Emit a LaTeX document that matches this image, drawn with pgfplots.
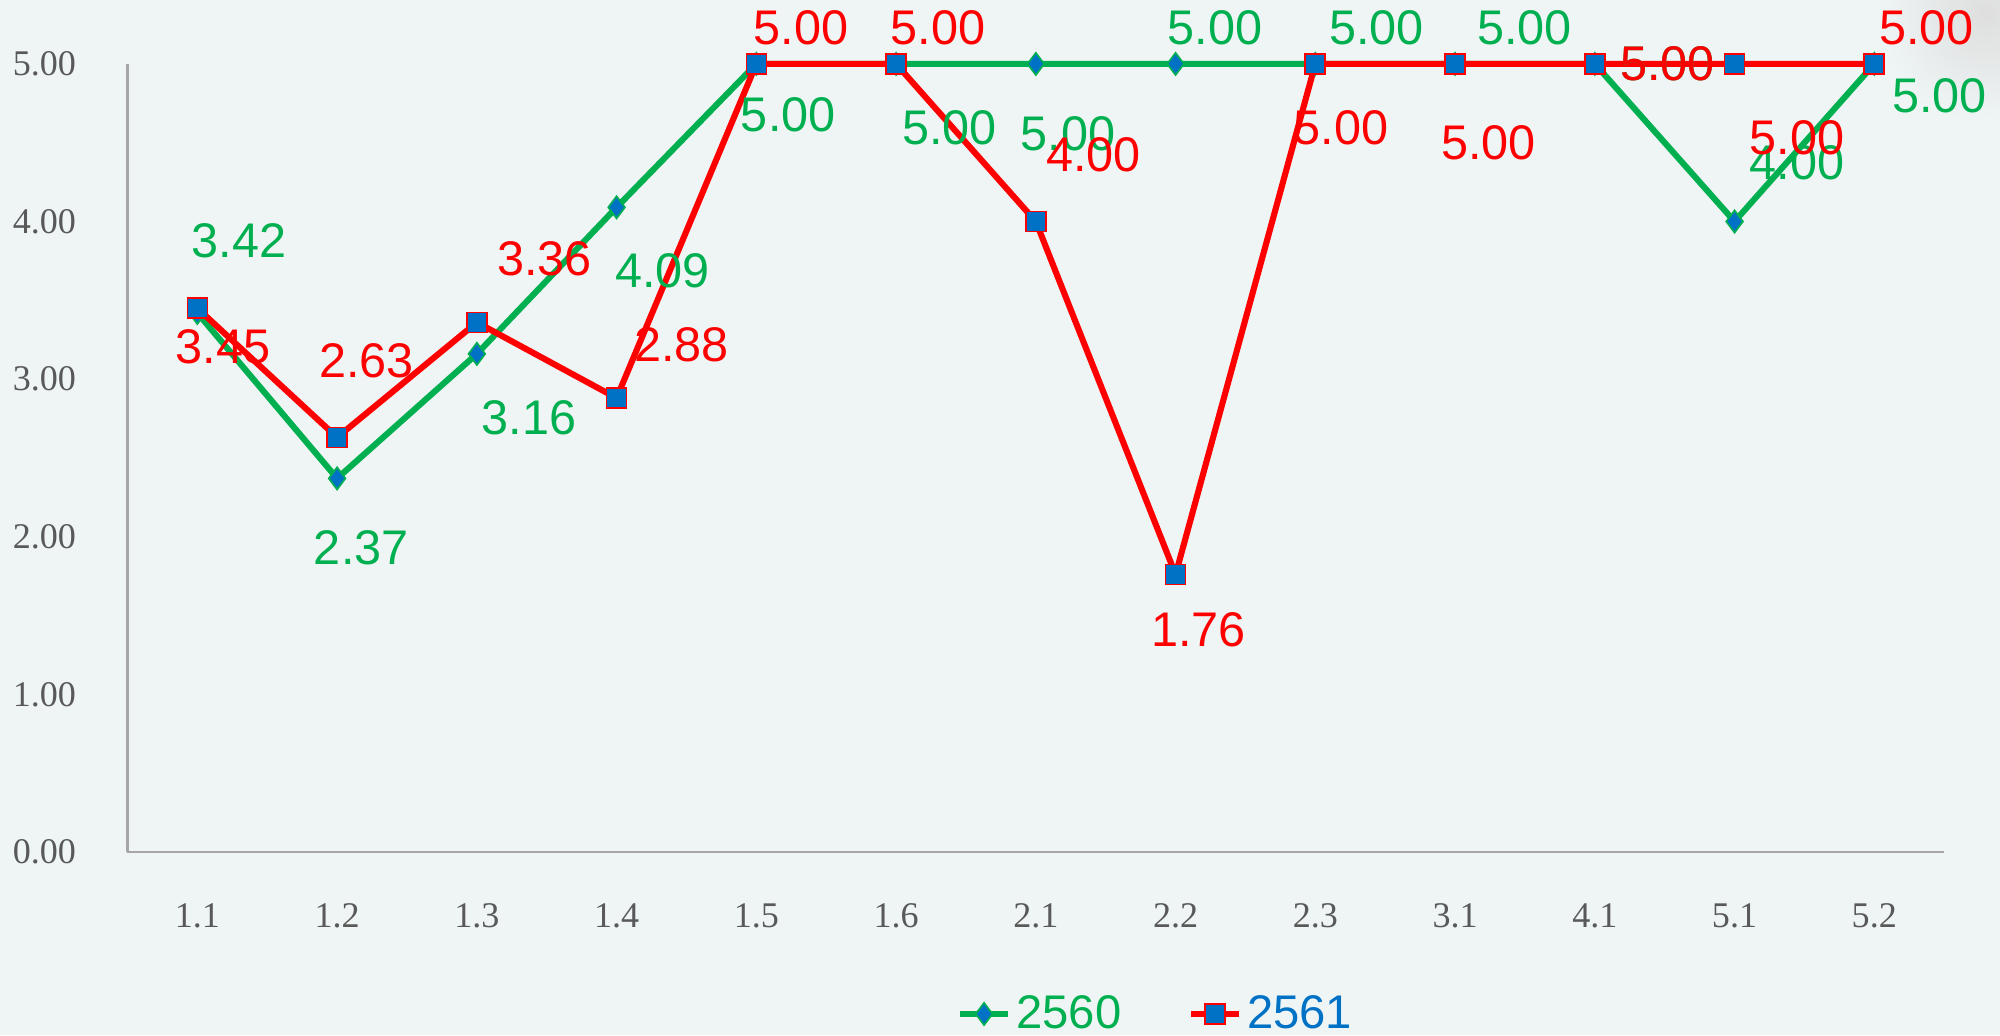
\documentclass[border=0pt]{standalone}
\usepackage{fontspec}
\setmainfont{Liberation Serif}
\newfontfamily\arial{Liberation Sans}
\usepackage{pgfplots}
\pgfplotsset{compat=1.18}
\usepackage{pgfplotstable}
\definecolor{bg}{RGB}{239,245,245}
\definecolor{cgreen}{RGB}{0,176,80}
\definecolor{cred}{RGB}{255,0,0}
\definecolor{cblue}{RGB}{0,114,198}
\definecolor{tickc}{RGB}{89,89,89}
\definecolor{axisline}{RGB}{166,166,166}

\pgfplotstableread{
x y dx dy
0 3.42 15 26
1 2.37 8.7 -25
2 3.16 18.8 -23
3 4.09 16.5 -23
4 5 11.5 -18.4
5 5 19.3 -23
6 5 11.5 -25
7 5 14.2 12.9
8 5 22 12.9
9 5 25 12.9
10 5 26.2 0
11 4 22.5 21
12 5 23.4 -11.5
}\tgreen

\pgfplotstableread{
x y dx dy
0 3.45 9.2 -13.8
1 2.63 10.6 27.5
2 3.36 24.3 23
3 2.88 23.4 19.3
4 5 16 12.9
5 5 15.1 12.9
6 4 20.7 23.9
7 1.76 8.3 -19.7
8 5 9.2 -23
9 5 12 -28.5
10 5 26.2 0
11 5 22.5 -26.6
12 5 18.8 12.9
}\tred

\begin{document}
\begin{tikzpicture}[x=1pt,y=1pt]
\fill[bg] (0,0) rectangle (720,372.6);
\shade[inner color=black!13, outer color=bg] (715,368) circle (40);
\begin{axis}[
  at={(45.9pt,65.9pt)}, anchor=south west,
  width=654pt, height=283.7pt, scale only axis,
  xmin=-0.5, xmax=12.5, ymin=0, ymax=5,
  axis lines*=left,
  axis line style={draw=axisline, line width=0.8pt},
  xtick={0,...,12},
  xticklabels={1.1,1.2,1.3,1.4,1.5,1.6,2.1,2.2,2.3,3.1,4.1,5.1,5.2},
  ytick={0,1,2,3,4,5},
  yticklabel={\pgfmathprintnumber[fixed,fixed zerofill,precision=2]{\tick}},
  major tick length=0pt,
  tick style={draw=none},
  /pgf/number format/assume math mode=true,
  ticklabel style={font=\fontsize{13}{15}\selectfont, text=tickc},
  xticklabel style={yshift=-15pt},
  yticklabel style={xshift=-15pt},
  clip=false,
  legend style={at={(0.567,-0.2056)}, anchor=center, draw=none, fill=none,
    legend columns=2, font=\arial\fontsize{17}{20}\selectfont,
    /tikz/every even column/.append style={column sep=22pt}},
  legend cell align=left,
]
\addplot[cgreen, line width=2.2pt, mark=diamond*, mark size=4pt,
  mark options={fill=cblue, draw=cgreen, line width=0.6pt},
  visualization depends on={\thisrow{dx}\as\dx},
  visualization depends on={\thisrow{dy}\as\dy},
  nodes near coords={\pgfmathprintnumber[fixed,fixed zerofill,precision=2]{\pgfplotspointmeta}},
  every node near coord/.append style={anchor=center, xshift=\dx pt, yshift=\dy pt,
    text=cgreen, font=\arial\fontsize{17.5}{20}\selectfont}]
  table[x=x,y=y] {\tgreen};
\addlegendentry{\textcolor{cgreen}{2560}}
\addplot[cred, line width=2.2pt, mark=square*, mark size=3.6pt,
  mark options={fill=cblue, draw=cred, line width=0.6pt},
  visualization depends on={\thisrow{dx}\as\dx},
  visualization depends on={\thisrow{dy}\as\dy},
  nodes near coords={\pgfmathprintnumber[fixed,fixed zerofill,precision=2]{\pgfplotspointmeta}},
  every node near coord/.append style={anchor=center, xshift=\dx pt, yshift=\dy pt,
    text=cred, font=\arial\fontsize{17.5}{20}\selectfont}]
  table[x=x,y=y] {\tred};
\addlegendentry{\textcolor{cblue}{2561}}
\end{axis}
\pgfresetboundingbox
\useasboundingbox (0,0) rectangle (720,372.6);
\end{tikzpicture}
\end{document}
